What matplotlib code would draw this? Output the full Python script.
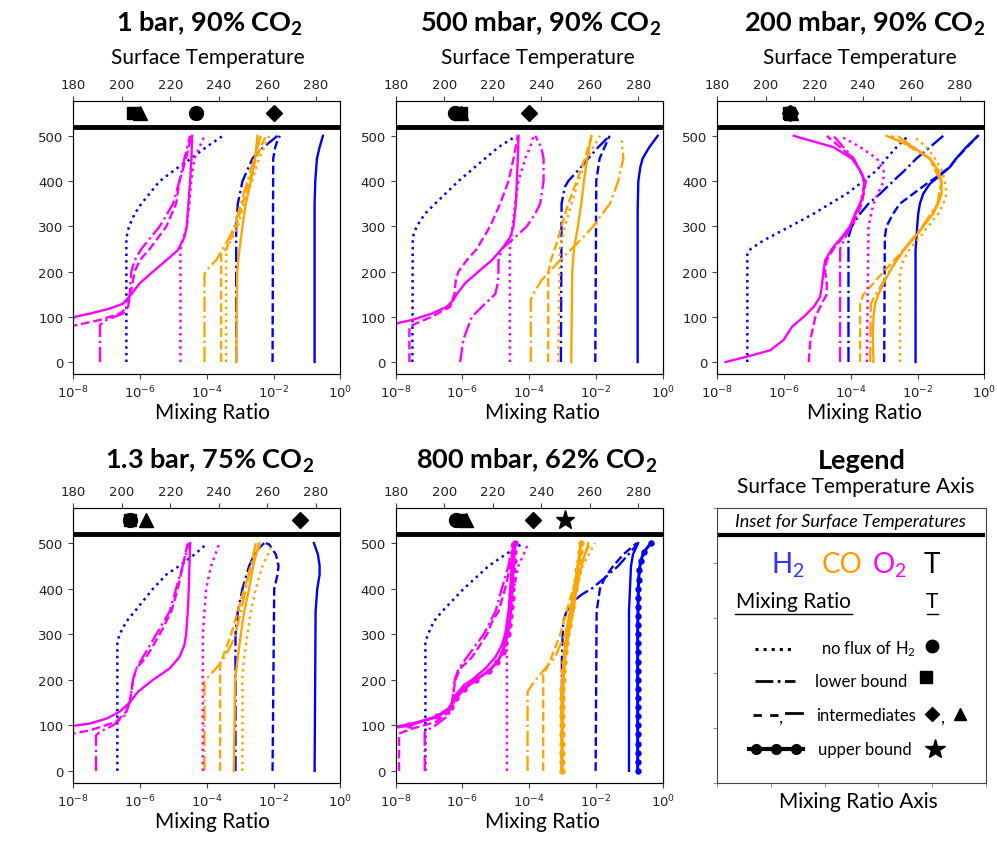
import matplotlib
matplotlib.use("Agg")
import matplotlib.pyplot as plt
from matplotlib.ticker import NullLocator

plt.rcParams['mathtext.rm'] = 'Lato'
plt.rcParams['mathtext.it'] = 'Lato:italic'
plt.rcParams['mathtext.bf'] = 'Lato:bold'

# ---------------------------------------------------------------------------
# Profiles: (altitude list, log10 mixing ratio list) for each scenario style
# ---------------------------------------------------------------------------
ALT_UB = [0, 20, 40, 60, 80, 100, 120, 140, 160, 180, 200, 220, 240, 260,
          280, 300, 320, 340, 360, 380, 400, 420, 440, 460, 480, 500]

# 1 bar, 90% CO2
P1_H2 = {
    "solid":   ([0, 350, 400, 450, 475, 500], [-0.77, -0.77, -0.75, -0.70, -0.62, -0.52]),
    "dashed":  ([0, 450, 475, 490, 500], [-2.03, -2.01, -1.95, -1.88, -1.81]),
    "dashdot": ([0, 300, 350, 400, 450, 475, 500], [-3.12, -3.12, -3.07, -2.93, -2.63, -2.30, -1.88]),
    "dotted":  ([0, 275, 300, 328, 350, 400, 427, 450, 475, 500],
                [-6.41, -6.41, -6.33, -6.16, -5.96, -5.41, -4.92, -4.47, -4.02, -3.52]),
}
P1_CO = {
    "solid":   ([0, 200, 250, 300, 350, 400, 450, 500], [-3.12, -3.09, -3.02, -2.93, -2.83, -2.68, -2.55, -2.48]),
    "dashdot": ([0, 195, 210, 225, 250, 276, 300, 350, 400, 450, 500],
                [-4.07, -4.07, -3.92, -3.72, -3.52, -3.32, -3.17, -2.98, -2.78, -2.58, -2.38]),
    "dashed":  ([0, 240, 250, 276, 300, 350, 400, 450, 500], [-3.57, -3.57, -3.42, -3.27, -3.12, -2.93, -2.73, -2.53, -2.23]),
    "dotted":  ([0, 247, 300, 350, 400, 450, 500], [-3.42, -3.42, -3.07, -2.88, -2.65, -2.43, -2.13]),
}
P1_O2 = {
    "solid":   ([0, 85, 96, 100, 107, 118, 129, 150, 174, 200, 225, 247, 276, 300, 350, 400, 450, 500],
                [-10, -9, -8.0, -7.95, -7.5, -6.91, -6.51, -6.26, -6.01, -5.61, -5.21, -4.87, -4.67, -4.60, -4.55, -4.50, -4.46, -4.44]),
    "dashed":  ([0, 70, 80, 85, 93, 107, 122, 150, 200, 225, 250, 300, 350, 400, 450, 500],
                [-10, -9, -8.0, -7.7, -7.2, -6.61, -6.36, -6.29, -6.16, -6.01, -5.71, -5.21, -4.92, -4.82, -4.62, -4.47]),
    "dashdot": ([0, 82, 93, 107, 122, 150, 200, 225, 250, 300, 350, 400, 450, 500],
                [-7.2, -7.2, -7.0, -6.51, -6.36, -6.31, -6.26, -6.16, -5.96, -5.41, -5.01, -4.82, -4.67, -4.50]),
    "dotted":  ([0, 250, 275, 300, 350, 400, 450, 500], [-4.79, -4.79, -4.70, -4.60, -4.52, -4.47, -4.37, -4.07]),
}

# 500 mbar, 90% CO2
P2_H2 = {
    "solid":   ([0, 335, 400, 431, 450, 475, 500], [-0.75, -0.75, -0.73, -0.67, -0.60, -0.40, -0.15]),
    "dashed":  ([0, 400, 450, 475, 500], [-2.02, -1.99, -1.89, -1.74, -1.59]),
    "dashdot": ([0, 350, 387, 400, 424, 450, 475, 500], [-3.05, -3.03, -2.93, -2.83, -2.53, -2.23, -1.93, -1.59]),
    "dotted":  ([0, 276, 300, 328, 350, 400, 450, 475, 500],
                [-7.50, -7.49, -7.37, -7.12, -6.82, -6.12, -5.32, -4.92, -4.38]),
}
P2_CO = {
    "solid":   ([0, 200, 250, 300, 350, 400, 450, 500], [-2.74, -2.71, -2.66, -2.54, -2.44, -2.36, -2.26, -2.14]),
    "dashdot": ([0, 137, 150, 181, 200, 225, 250, 276, 300, 326, 350, 400, 450, 490],
                [-3.95, -3.95, -3.88, -3.63, -3.38, -3.08, -2.73, -2.38, -2.08, -1.83, -1.58, -1.33, -1.18, -1.23]),
    "dashed":  ([0, 196, 225, 250, 300, 350, 400, 450, 500], [-3.43, -3.43, -3.35, -3.23, -3.03, -2.83, -2.58, -2.33, -2.13]),
    "dotted":  ([0, 250, 300, 350, 400, 450, 500], [-3.13, -3.08, -2.93, -2.73, -2.53, -2.28, -1.88]),
}
P2_O2 = {
    "solid":   ([0, 80, 85, 93, 107, 122, 137, 150, 174, 200, 225, 250, 276, 300, 350, 400, 450, 500],
                [-10, -9, -8.0, -7.51, -6.92, -6.47, -6.27, -6.17, -5.92, -5.52, -5.12, -4.82, -4.57, -4.47, -4.40, -4.37, -4.34, -4.32]),
    "dashed":  ([0, 78, 85, 100, 122, 150, 181, 200, 225, 250, 300, 350, 400, 450, 500],
                [-7.59, -7.59, -7.4, -6.92, -6.37, -6.24, -6.20, -6.12, -5.87, -5.57, -5.17, -4.87, -4.62, -4.47, -4.34]),
    "dashdot": ([0, 50, 100, 129, 150, 174, 200, 225, 250, 276, 300, 328, 350, 400, 450, 475, 500],
                [-6.07, -5.97, -5.72, -5.32, -5.02, -4.94, -4.92, -4.92, -4.82, -4.42, -4.07, -3.82, -3.67, -3.57, -3.57, -3.64, -3.82]),
    "dotted":  ([0, 250, 300, 350, 400, 450, 475, 500], [-4.58, -4.58, -4.50, -4.42, -4.32, -4.12, -3.97, -3.87]),
}

# 200 mbar, 90% CO2
P3_H2 = {
    "solid":   ([0, 247, 276, 300, 328, 350, 372, 394, 409, 431, 450, 475, 500],
                [-2.06, -2.06, -2.03, -2.01, -1.98, -1.93, -1.83, -1.63, -1.38, -1.03, -0.84, -0.54, -0.19]),
    "dashed":  ([0, 276, 300, 328, 350, 372, 394, 409, 431, 450, 500],
                [-3.00, -2.98, -2.93, -2.73, -2.53, -2.13, -1.73, -1.43, -1.03, -0.84, -0.19]),
    "dashdot": ([0, 276, 300, 328, 350, 372, 400, 424, 450, 475, 500],
                [-4.07, -4.07, -3.97, -3.72, -3.47, -3.12, -2.73, -2.38, -2.03, -1.63, -1.23]),
    "dotted":  ([0, 240, 250, 269, 300, 328, 350, 372, 400, 424, 450, 475, 500],
                [-7.10, -7.10, -7.00, -6.61, -5.81, -5.11, -4.62, -4.12, -3.62, -3.22, -2.93, -2.63, -2.28]),
}
P3_CO = {
    "solid":   ([0, 50, 100, 129, 150, 174, 200, 225, 250, 276, 300, 328, 350, 372, 400, 424, 450, 475, 500],
                [-3.32, -3.34, -3.32, -3.27, -3.17, -3.02, -2.83, -2.63, -2.38, -2.08, -1.83, -1.53, -1.38, -1.28, -1.28, -1.38, -1.63, -2.13, -2.93]),
    "dashed":  ([0, 129, 150, 174, 200, 225, 250, 276, 300, 350, 400, 450, 500],
                [-3.72, -3.72, -3.62, -3.32, -3.02, -2.70, -2.40, -2.08, -1.83, -1.38, -1.28, -1.63, -2.80]),
    "dashdot": ([0, 129, 150, 174, 200, 250, 300, 350, 400, 450, 500],
                [-3.42, -3.40, -3.25, -3.05, -2.85, -2.40, -1.85, -1.40, -1.30, -1.65, -2.60]),
    "dotted":  ([0, 196, 225, 250, 276, 300, 328, 350, 372, 400, 424, 450, 475, 500],
                [-2.53, -2.53, -2.43, -2.23, -1.93, -1.68, -1.38, -1.23, -1.13, -1.18, -1.28, -1.48, -1.73, -2.13]),
}
P3_O2 = {
    "solid":   ([0, 12, 26, 49, 78, 100, 122, 144, 166, 200, 225, 250, 276, 300, 328, 350, 372, 400, 424, 450, 475, 500],
                [-7.75, -7.10, -6.41, -6.01, -5.76, -5.41, -5.11, -4.92, -4.87, -4.82, -4.77, -4.57, -4.27, -4.02, -3.87, -3.72, -3.62, -3.60, -3.72, -3.97, -4.52, -5.71]),
    "dashed":  ([0, 50, 100, 129, 150, 174, 200, 225, 250, 300, 350, 400, 450, 500],
                [-5.26, -5.21, -5.06, -4.87, -4.72, -4.72, -4.77, -4.72, -4.52, -3.97, -3.67, -3.55, -3.92, -4.72]),
    "dashdot": ([0, 250, 300, 350, 400, 450, 500], [-4.32, -4.32, -4.02, -3.72, -3.57, -3.92, -4.52]),
    "dotted":  ([0, 300, 350, 400, 424, 450, 475, 500], [-3.52, -3.47, -3.32, -3.02, -3.02, -3.22, -3.72, -4.32]),
}

# 1.3 bar, 75% CO2
P4_H2 = {
    "solid":   ([0, 350, 400, 431, 450, 475, 500], [-0.77, -0.74, -0.69, -0.62, -0.62, -0.67, -0.79]),
    "dashed":  ([0, 400, 431, 450, 475, 497, 500], [-2.03, -1.98, -1.88, -1.85, -1.93, -2.13, -2.23]),
    "dashdot": ([0, 300, 350, 400, 450, 482, 500], [-3.14, -3.14, -3.07, -2.93, -2.73, -2.53, -2.28]),
    "dotted":  ([0, 284, 300, 328, 350, 400, 431, 450, 475, 497],
                [-6.68, -6.68, -6.61, -6.41, -6.16, -5.61, -5.21, -4.82, -4.37, -4.02]),
}
P4_CO = {
    "solid":   ([0, 200, 250, 300, 350, 400, 450, 500], [-3.19, -3.15, -3.07, -2.98, -2.88, -2.73, -2.61, -2.43]),
    "dashdot": ([0, 196, 210, 225, 250, 276, 300, 350, 400, 450, 500],
                [-4.07, -4.07, -3.92, -3.72, -3.47, -3.27, -3.14, -2.98, -2.83, -2.68, -2.53]),
    "dashed":  ([0, 240, 250, 300, 350, 400, 450, 500], [-3.60, -3.60, -3.52, -3.27, -3.07, -2.88, -2.68, -2.38]),
    "dotted":  ([0, 210, 250, 300, 350, 400, 450, 482, 493], [-2.93, -2.93, -2.88, -2.78, -2.68, -2.53, -2.33, -2.13, -2.08]),
}
P4_O2 = {
    "solid":   ([0, 90, 99, 104, 115, 130, 150, 174, 200, 225, 250, 276, 300, 350, 400, 450, 500],
                [-10, -9, -8.0, -7.5, -7.0, -6.61, -6.31, -6.06, -5.61, -5.11, -4.82, -4.67, -4.62, -4.57, -4.54, -4.52, -4.50]),
    "dashed":  ([0, 75, 82, 89, 108, 130, 150, 200, 225, 250, 300, 350, 400, 450, 500],
                [-10, -9, -8.0, -7.5, -6.71, -6.41, -6.31, -6.21, -6.11, -5.81, -5.41, -5.06, -4.87, -4.72, -4.57]),
    "dashdot": ([0, 78, 86, 100, 122, 150, 200, 225, 250, 300, 350, 400, 450, 500],
                [-7.32, -7.32, -7.2, -6.81, -6.46, -6.31, -6.21, -6.11, -5.91, -5.51, -5.11, -4.92, -4.72, -4.54]),
    "dotted":  ([0, 300, 350, 400, 450, 500], [-4.12, -4.12, -4.07, -4.02, -3.87, -3.62]),
}

# 800 mbar, 62% CO2
P5_H2 = {
    "solid":   ([0, 350, 400, 450, 475, 500], [-1.01, -1.01, -0.98, -0.95, -0.89, -0.74]),
    "upper":   (ALT_UB, [-0.75, -0.75, -0.75, -0.75, -0.75, -0.75, -0.75, -0.75, -0.75, -0.75, -0.75, -0.75, -0.75,
                         -0.75, -0.75, -0.75, -0.75, -0.74, -0.74, -0.73, -0.73, -0.72, -0.70, -0.66, -0.57, -0.35]),
    "dashed":  ([0, 350, 400, 424, 450, 475, 500], [-2.01, -1.98, -1.88, -1.73, -1.48, -1.18, -0.78]),
    "dashdot": ([0, 254, 328, 350, 372, 387, 400, 424, 450, 475, 500],
                [-3.02, -3.02, -2.98, -2.88, -2.68, -2.43, -2.13, -1.73, -1.33, -1.03, -0.73]),
    "dotted":  ([0, 284, 300, 328, 350, 400, 450, 475, 500], [-7.11, -7.11, -7.03, -6.86, -6.61, -5.96, -5.21, -4.71, -4.18]),
}
P5_CO = {
    "solid":   ([0, 200, 250, 300, 350, 400, 450, 500], [-3.02, -2.97, -2.92, -2.82, -2.68, -2.58, -2.43, -2.23]),
    "upper":   (ALT_UB, [-3.02, -3.02, -3.02, -3.02, -3.02, -3.02, -3.02, -3.02, -3.02, -3.02, -2.99, -2.98, -2.96,
                         -2.93, -2.90, -2.86, -2.82, -2.78, -2.73, -2.69, -2.64, -2.60, -2.56, -2.52, -2.48, -2.45]),
    "dashdot": ([0, 174, 188, 200, 225, 250, 276, 300, 350, 400, 450, 500],
                [-4.05, -4.05, -3.92, -3.80, -3.52, -3.22, -3.07, -2.92, -2.77, -2.62, -2.52, -2.43]),
    "dashed":  ([0, 210, 225, 250, 300, 350, 400, 450, 500], [-3.58, -3.58, -3.48, -3.33, -3.07, -2.88, -2.68, -2.48, -2.18]),
    "dotted":  ([0, 200, 300, 350, 400, 450, 500], [-3.02, -3.00, -2.85, -2.72, -2.58, -2.40, -2.03]),
}
P5_O2 = {
    "solid":   ([0, 88, 97, 104, 115, 130, 150, 166, 188, 200, 225, 250, 276, 300, 350, 400, 450, 500],
                [-10, -9, -8.0, -7.5, -6.91, -6.46, -6.31, -6.21, -5.96, -5.71, -5.31, -5.01, -4.82, -4.72, -4.62, -4.57, -4.52, -4.47]),
    "upper":   (ALT_UB, [-10, -10, -10, -10, -9.5, -7.6, -6.75, -6.35, -6.2, -5.95, -5.6, -5.2, -4.95,
                         -4.8, -4.72, -4.65, -4.6, -4.57, -4.55, -4.53, -4.52, -4.5, -4.48, -4.46, -4.45, -4.42]),
    "dashed":  ([0, 82, 93, 107, 129, 150, 176, 200, 225, 250, 300, 328, 350, 400, 450, 500],
                [-7.90, -7.90, -7.5, -6.81, -6.41, -6.31, -6.26, -6.21, -6.06, -5.71, -5.26, -5.11, -4.92, -4.72, -4.57, -4.47]),
    "dashdot": ([0, 86, 100, 122, 150, 200, 225, 250, 300, 350, 400, 450, 500],
                [-7.13, -7.13, -6.81, -6.41, -6.31, -6.23, -6.11, -5.86, -5.36, -5.01, -4.82, -4.62, -4.50]),
    "dotted":  ([0, 300, 350, 400, 450, 500], [-4.67, -4.67, -4.57, -4.47, -4.32, -4.02]),
}

# Surface temperatures (K) per panel for each scenario; None = not shown
T_NOFLUX = [230.5, 204.5, 210.0, 203.2, 205.0]   # circle
T_LOWER  = [204.6, 207.0, 209.5, 203.5, 206.5]   # square
T_INTER1 = [262.7, 235.1, 210.0, 273.6, 236.5]   # diamond
T_INTER2 = [207.5, 207.0, 210.5, 210.0, 209.0]   # triangle
T_UPPER  = [None, None, None, None, 249.9]       # star

TITLES = [r"1 bar, 90% CO$_\mathbf{2}$", r"500 mbar, 90% CO$_\mathbf{2}$",
          r"200 mbar, 90% CO$_\mathbf{2}$", r"1.3 bar, 75% CO$_\mathbf{2}$",
          r"800 mbar, 62% CO$_\mathbf{2}$"]
PROFILES = [(P1_H2, P1_CO, P1_O2), (P2_H2, P2_CO, P2_O2), (P3_H2, P3_CO, P3_O2),
            (P4_H2, P4_CO, P4_O2), (P5_H2, P5_CO, P5_O2)]

SPECIES_COLORS = ["blue", "orange", "magenta"]
STYLES = {
    "dotted":  dict(ls=":", lw=1.8),
    "dashdot": dict(ls="-.", lw=1.7),
    "dashed":  dict(ls="--", lw=1.7),
    "solid":   dict(ls="-", lw=1.7),
    "upper":   dict(ls="-", lw=2.2, marker="o", ms=3.6),
}
MARKERS = [(T_NOFLUX, "o", 10), (T_LOWER, "s", 9), (T_INTER1, "D", 8.5),
           (T_INTER2, "^", 10), (T_UPPER, "*", 14)]

# ---------------------------------------------------------------------------
W, H = 997, 853
fig = plt.figure(figsize=(W / 100, H / 100), dpi=100)


def rect(l, r, t, b):
    return [l / W, 1 - b / H, (r - l) / W, (b - t) / H]


RECTS = [rect(73.3, 340.3, 102, 375), rect(395.7, 662.7, 102, 375),
         rect(717.3, 984.3, 102, 375), rect(73.3, 340.3, 509, 784),
         rect(395.7, 662.7, 509, 784)]
TITLE_POS = [(210, 24), (541, 24), (865, 24), (210, 461), (537, 461)]
XLABEL_POS = [(212, 413), (542, 413), (864, 413), (212, 822), (542, 822)]
TICK_COLOR = "#222222"
SPINE_COLOR = "#444444"

LABEL_FONT = "Lato"

for i, (r, profs) in enumerate(zip(RECTS, PROFILES)):
    ax = fig.add_axes(r)
    ax.set_xscale("log")
    for curves, color in zip(profs, SPECIES_COLORS):
        for style, (alt, val) in curves.items():
            ax.plot([10.0 ** v for v in val], alt, color=color, **STYLES[style])
    ax.axhline(520, color="black", lw=3.5)
    ax.set_xlim(1e-8, 1)
    ax.set_ylim(-26.5, 577)
    ax.set_xticks([1e-8, 1e-6, 1e-4, 1e-2, 1])
    ax.xaxis.set_minor_locator(NullLocator())
    ax.set_yticks([0, 100, 200, 300, 400, 500])
    ax.tick_params(labelsize=9.5, labelcolor=TICK_COLOR, color=SPINE_COLOR)
    for s in ax.spines.values():
        s.set_color(SPINE_COLOR)

    tw = ax.twiny()
    tw.set_xlim(180, 290)
    tw.set_xticks(range(180, 281, 20))
    tw.tick_params(labelsize=9.5, labelcolor=TICK_COLOR, color=SPINE_COLOR)
    for temps, mk, ms in MARKERS:
        t = temps[i]
        if t is not None:
            tw.plot([t], [550], marker=mk, ms=ms, color="black", ls="none")

    tx, ty = TITLE_POS[i]
    fig.text(tx / W, 1 - ty / H, TITLES[i], ha="center", va="center", fontsize=19.5,
             fontweight="bold", family=LABEL_FONT, math_fontfamily="custom")
    lx, ly = XLABEL_POS[i]
    fig.text(lx / W, 1 - ly / H, "Mixing Ratio", ha="center", va="center",
             fontsize=15, family=LABEL_FONT)
    if i < 3:
        fig.text((lx - 4) / W, 1 - 58 / H, "Surface Temperature", ha="center",
                 va="center", fontsize=15, family=LABEL_FONT)

# ---------------------------------------------------------------------------
# Legend panel
# ---------------------------------------------------------------------------
lg = fig.add_axes(rect(717, 986, 509, 784))
lg.set_xlim(0, 1)
lg.set_ylim(0, 1)
lg.set_xticks([0, 0.2, 0.4, 0.6, 0.8, 1.0])
lg.set_yticks([0, 0.2, 0.4, 0.6, 0.8, 1.0])
lg.tick_params(labelbottom=False, labelleft=False, color="#999999", length=3)
for s in lg.spines.values():
    s.set_color(SPINE_COLOR)

fig.text(862 / W, 1 - 461 / H, "Legend", ha="center", va="center", fontsize=19.5,
         fontweight="bold", family=LABEL_FONT)
fig.text(856 / W, 1 - 487 / H, "Surface Temperature Axis", ha="center", va="center",
         fontsize=15, family=LABEL_FONT)
fig.text(858 / W, 1 - 802 / H, "Mixing Ratio Axis", ha="center", va="center",
         fontsize=15, family=LABEL_FONT)

lg.text(0.496, 0.954, "Inset for Surface Temperatures", ha="center", va="center",
        fontsize=13, style="italic", family=LABEL_FONT)
lg.plot([0.005, 0.995], [0.903, 0.903], color="black", lw=3, solid_capstyle="butt")

for x, txt, col in [(0.264, r"H$_2$", "#3333ff"), (0.465, "CO", "#ff9900"),
                    (0.64, r"O$_2$", "#ff00ff"), (0.80, "T", "black")]:
    lg.text(x, 0.795, txt, ha="center", va="center", fontsize=20, color=col,
            family=LABEL_FONT, math_fontfamily="custom")

lg.text(0.283, 0.66, "Mixing Ratio", ha="center", va="center", fontsize=15, family=LABEL_FONT)
lg.plot([0.067, 0.50], [0.615, 0.615], color="black", lw=1)
lg.text(0.80, 0.66, "T", ha="center", va="center", fontsize=15, family=LABEL_FONT)
lg.plot([0.78, 0.82], [0.615, 0.615], color="black", lw=1)

# line-style samples
lg.plot([0.14, 0.28], [0.487, 0.487], color="black", ls=":", lw=2.2)
lg.plot([0.14, 0.29], [0.371, 0.371], color="black", ls="-.", lw=2)
lg.plot([0.135, 0.225], [0.247, 0.247], color="black", ls=(0, (3, 3)), lw=2)
lg.text(0.237, 0.24, ",", ha="center", va="center", fontsize=13, family=LABEL_FONT)
lg.plot([0.255, 0.315], [0.255, 0.255], color="black", ls="-", lw=2)
lg.plot([0.118, 0.32], [0.124, 0.124], color="black", lw=3)
lg.plot([0.145, 0.22, 0.295], [0.124, 0.124, 0.124], color="black", marker="o",
        ms=7, ls="none")

for y, txt, x in [(0.49, r"no flux of H$_2$", 0.565), (0.371, "lower bound", 0.535),
                  (0.247, "intermediates", 0.555), (0.124, "upper bound", 0.548)]:
    lg.text(x, y, txt, ha="center", va="center", fontsize=12, family=LABEL_FONT,
            math_fontfamily="custom")

lg.plot([0.80], [0.499], marker="o", ms=9, color="black", ls="none")
lg.plot([0.776], [0.385], marker="s", ms=8, color="black", ls="none")
lg.plot([0.80], [0.251], marker="D", ms=7, color="black", ls="none")
lg.text(0.84, 0.24, ",", ha="center", va="center", fontsize=13, family=LABEL_FONT)
lg.plot([0.904], [0.251], marker="^", ms=9, color="black", ls="none")
lg.plot([0.81], [0.124], marker="*", ms=15, color="black", ls="none")

fig.savefig("out.png", dpi=100)
